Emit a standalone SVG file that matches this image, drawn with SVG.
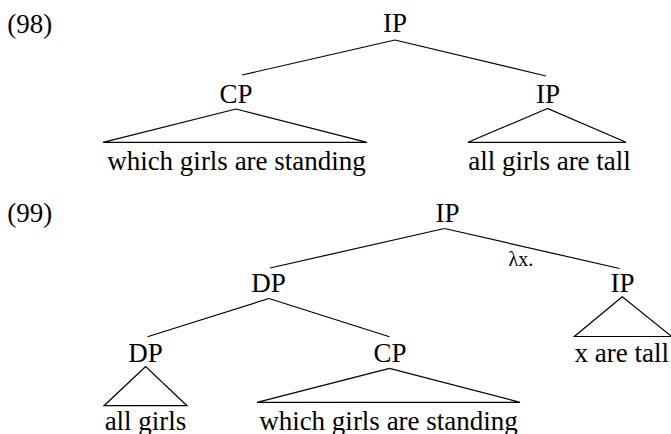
<svg xmlns="http://www.w3.org/2000/svg" width="671" height="434" viewBox="0 0 671 434">
<style>
text{font-family:'Liberation Serif','Times New Roman',Tinos,'Nimbus Roman','DejaVu Serif',serif;font-size:27px;fill:#000}
.m{text-anchor:middle}
.lam{font-size:20px}
.c line,.c polygon{stroke:#000;stroke-width:1.2;fill:none}
</style>
<rect width="671" height="434" fill="#fff"/>
<g font-family="Liberation Serif, Times New Roman, serif">
<g id="ex98"><text x="7.3" y="33">(98)</text></g>
<g id="ex99"><text x="7.3" y="222.3">(99)</text></g>
<g class="c" id="connectors">
<line x1="395" y1="40" x2="242" y2="75"/>
<line x1="395" y1="40" x2="546" y2="76"/>
<polygon points="236,109 103,142.3 367,142.3"/>
<polygon points="547.5,108.5 468,142.3 626,142.3"/>
<line x1="444.5" y1="228.5" x2="270" y2="268"/>
<line x1="444.5" y1="228.5" x2="619.5" y2="268.5"/>
<line x1="269" y1="298.5" x2="147.5" y2="336.7"/>
<line x1="269" y1="298.5" x2="389.5" y2="336.7"/>
<polygon points="622.3,296.7 574.3,336.5 671.5,336.5"/>
<polygon points="145.7,366.5 104,405.7 187,405.7"/>
<polygon points="389.5,368.3 257,402.3 520,402.3"/>
</g>
<g id="n98-IP"><text class="m" x="395" y="32">IP</text></g>
<g id="n98-CP"><text class="m" x="236" y="103.3">CP</text></g>
<g id="n98-IP2"><text class="m" x="548" y="103.3">IP</text></g>
<g id="n98-s1"><text class="m" x="236.5" y="169.5">which girls are standing</text></g>
<g id="n98-s2"><text class="m" x="549.5" y="169.5">all girls are tall</text></g>
<g id="n99-IP"><text class="m" x="447.5" y="222.3">IP</text></g>
<g id="lambda"><text class="lam" x="508.5" y="266">λx.</text></g>
<g id="n99-DP"><text class="m" x="268.5" y="292.3">DP</text></g>
<g id="n99-IP2"><text class="m" x="622.5" y="292.3">IP</text></g>
<g id="n99-s3"><text class="m" x="621.8" y="362.3">x are tall</text></g>
<g id="n99-DP2"><text class="m" x="145.5" y="361.7">DP</text></g>
<g id="n99-CP"><text class="m" x="390" y="361.7">CP</text></g>
<g id="n99-s1"><text class="m" x="145.5" y="430">all girls</text></g>
<g id="n99-s2"><text class="m" x="388.5" y="430">which girls are standing</text></g>
</g>
</svg>
